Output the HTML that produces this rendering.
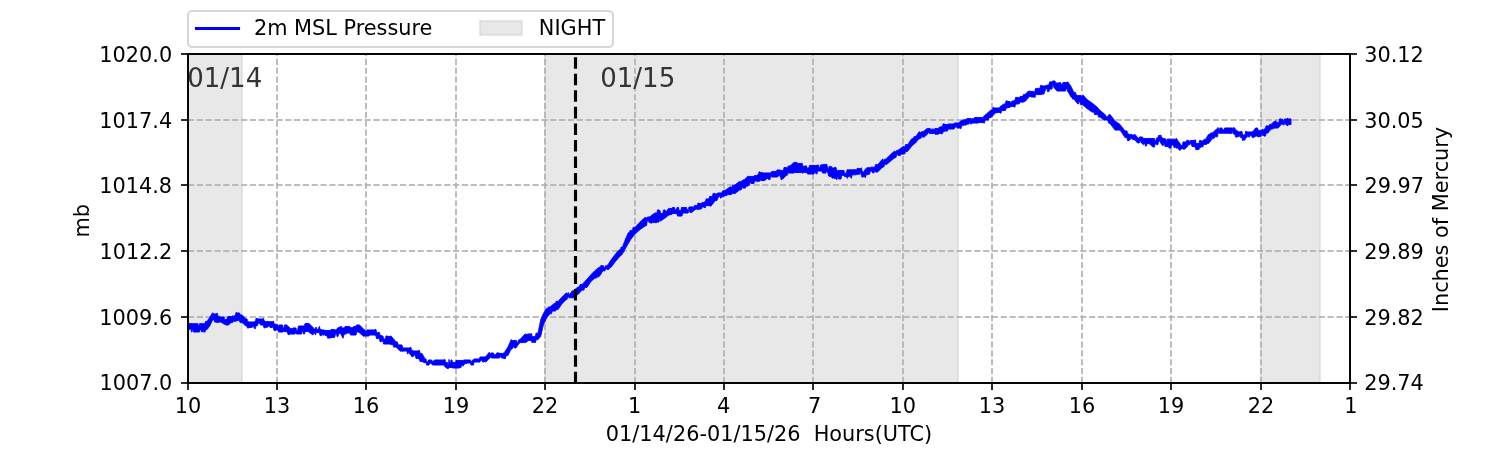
<!DOCTYPE html>
<html lang="en"><head><meta charset="utf-8"><title>2m MSL Pressure</title>
<style>html,body{margin:0;padding:0;background:#fff;overflow:hidden}svg{display:block}text{font-family:"DejaVu Sans", "Liberation Sans", sans-serif;font-size:20.83px;fill:#000}</style></head><body>
<svg width="1500" height="450" viewBox="0 0 1500 450">
<rect width="1500" height="450" fill="#fff"/>
<defs><clipPath id="ax"><rect x="187.5" y="54" width="1162.5" height="329"/></clipPath></defs>
<g clip-path="url(#ax)" fill="#d1d1d1" fill-opacity="0.5" stroke="#d1d1d1" stroke-opacity="0.5" stroke-width="2.083">
<rect x="188" y="54" width="54" height="329"/>
<rect x="545" y="54" width="413" height="329"/>
<rect x="1261" y="54" width="59" height="329"/>
</g>
<g stroke="#b0b0b0" stroke-opacity="0.8333" stroke-width="2" stroke-dasharray="6.167 2.667" fill="none">
<path d="M188 383 V54"/>
<path d="M277 383 V54"/>
<path d="M366 383 V54"/>
<path d="M456 383 V54"/>
<path d="M545 383 V54"/>
<path d="M635 383 V54"/>
<path d="M724 383 V54"/>
<path d="M813 383 V54"/>
<path d="M903 383 V54"/>
<path d="M992 383 V54"/>
<path d="M1082 383 V54"/>
<path d="M1171 383 V54"/>
<path d="M1261 383 V54"/>
<path d="M1350 383 V54"/>
<path d="M188 383 H1350"/>
<path d="M188 317 H1350"/>
<path d="M188 251 H1350"/>
<path d="M188 185 H1350"/>
<path d="M188 120 H1350"/>
<path d="M188 54 H1350"/>
</g>
<path clip-path="url(#ax)" d="M187.5 323.1 L189.5 323.1 L190 323.65 L198 323.65 L198.5 326.15 L199 326.15 L199.5 323.65 L204.5 323.65 L205 323.1 L205.5 321.4 L207 321.4 L207.5 320.65 L208 319.9 L208.5 319.15 L209 318.4 L209.5 317.65 L210 316.9 L210.5 316.1 L211 315.3 L211.5 314.5 L212 313.7 L212.5 312.9 L213 312.9 L213.5 313.45 L214 313.45 L214.5 313.95 L216 313.95 L216.5 313.4 L217.5 313.4 L218 316.4 L219.5 316.4 L220 316.95 L224 316.95 L224.5 319.45 L227 319.45 L227.5 316.95 L228 316.45 L231.5 316.45 L232 315.95 L233.5 315.95 L234 317.78 L234.5 315.4 L235.5 315.4 L236 312.4 L236.5 312.4 L237 312.95 L239.5 312.95 L240 314.9 L242 314.9 L242.5 315.4 L243 315.9 L243.5 316.4 L244 316.9 L244.5 317.4 L245 317.9 L245.5 318.4 L246 318.9 L247 318.9 L247.5 321.4 L248.5 321.4 L249 321.95 L254 321.95 L254.5 321.4 L255.5 321.4 L256 318.4 L257.5 318.4 L258 318.95 L262.5 318.95 L263 318.4 L263.5 318.4 L264 320.9 L265 320.9 L265.5 321.45 L268.5 321.45 L269 321.65 L272.5 321.65 L273 321.1 L273.5 321.1 L274 323.9 L275.5 323.9 L276 324.45 L277.5 324.45 L278 326.25 L278.5 326.75 L279 324.95 L282.5 324.95 L283 327.95 L284 327.95 L284.5 324.95 L286 324.95 L286.5 324.84 L287 325.27 L287.5 325.71 L288 326.15 L288.5 326.59 L289 327.02 L289.5 327.46 L290 328.45 L292.5 328.45 L293 327.95 L296 327.95 L296.5 330.78 L297.5 330.78 L298 327.95 L298.5 325.95 L304.5 325.95 L305 323.45 L308.5 323.45 L309 323.4 L309.5 323.9 L310 324.4 L310.5 324.9 L311 325.4 L311.5 325.9 L312 326.4 L312.5 326.9 L313 327.4 L313.5 328.45 L314 328.95 L315.5 328.95 L316 326.95 L316.5 329.28 L318.5 329.28 L319 326.95 L319.5 326.4 L320 329.4 L321.5 329.4 L322 329.95 L324.5 329.95 L325 330.45 L330.5 330.45 L331 329.45 L334.5 329.45 L335 329.95 L336 329.95 L336.5 329.56 L337 328.62 L337.5 328.23 L338 327.84 L338.5 327.46 L339 327.07 L339.5 327.23 L340 326.84 L340.5 326.45 L341.5 326.45 L342 327.95 L344.5 327.95 L345 326.45 L350 326.45 L350.5 327.65 L353 327.65 L353.5 326.45 L356 326.45 L356.5 324.95 L359 324.95 L359.5 324.9 L360 325.4 L360.5 325.9 L361 326.4 L361.5 326.9 L362 327.4 L362.5 327.9 L363 328.4 L363.5 328.9 L364 329.4 L364.5 329.95 L365 329.95 L365.5 331.15 L366.5 331.15 L367 329.95 L374.5 329.95 L375 329.4 L376 329.4 L376.5 332.4 L379.5 332.4 L380 335.4 L381.5 335.4 L382 335.95 L383 335.95 L383.5 338.95 L385.5 338.95 L386 335.95 L387.5 335.95 L388 336.45 L390 336.45 L390.5 335.9 L391 335.9 L391.5 336.5 L392 337.1 L392.5 337.7 L393 338.3 L393.5 338.9 L394 339.5 L394.5 340.1 L395 340.7 L395.5 341.3 L396 341.9 L397.5 341.9 L398 344.9 L402 344.9 L402.5 347.4 L403 347.4 L403.5 347.95 L409.5 347.95 L410 347.4 L411 347.4 L411.5 350.4 L413 350.4 L413.5 350.95 L418 350.95 L418.5 350.4 L419.5 350.4 L420 353.4 L422 353.4 L422.5 354.32 L423 355.23 L423.5 356.15 L424 357.07 L424.5 357.98 L425 358.9 L426 358.9 L426.5 361.78 L428 361.78 L428.5 359.95 L431.5 359.95 L432 361.15 L434 361.15 L434.5 359.95 L444 359.95 L444.5 359.4 L445 359.4 L445.5 361.9 L446 362.45 L447.5 362.45 L448 364.95 L448.5 364.95 L449 359.4 L449.5 362.45 L450.5 362.45 L451 359.95 L452 359.95 L452.5 362.45 L455.5 362.45 L456 360.45 L463 360.45 L463.5 359.95 L470.5 359.95 L471 361.78 L472 361.78 L472.5 359.95 L473.5 359.95 L474 358.95 L478.5 358.95 L479 358.78 L479.5 358.78 L480 356.95 L485 356.95 L485.5 356.4 L486 356.4 L486.5 355.73 L487 355.07 L487.5 354.4 L488 353.73 L488.5 353.07 L489 352.4 L489.5 352.4 L490 354.15 L490.5 354.15 L491 352.95 L493.5 352.95 L494 354.75 L496 354.75 L496.5 352.95 L499.5 352.95 L500 353.45 L503 353.45 L503.5 352.9 L504 352.9 L504.5 352.15 L505 351.4 L505.5 350.65 L506 349.9 L506.5 349.15 L507 348.4 L507.5 347.65 L508 346.9 L508.5 345.73 L509 344.57 L509.5 343.4 L510 342.23 L510.5 341.07 L511 339.9 L512 339.9 L512.5 340.45 L516.5 340.45 L517 342.95 L517.5 342.53 L518 341.78 L518.5 339.95 L519 339.95 L519.5 339.4 L520 339.4 L520.5 338.85 L521 338.3 L521.5 337.75 L522 337.2 L522.5 336.65 L523 336.1 L523.5 335.55 L524 335 L524.5 334.45 L525 333.9 L525.5 333.9 L526 334.45 L527 334.45 L527.5 333.95 L531 333.95 L531.5 333.4 L532 335.9 L532.5 336.45 L535 336.45 L535.5 335.9 L536 333.2 L538 333.2 L538.5 330.68 L539 328.16 L539.5 325.64 L540 323.13 L540.5 320.61 L541 318.91 L541.5 317.75 L542 316.6 L542.5 315.45 L543 314.29 L543.5 313.28 L544 312.49 L544.5 311.69 L545 310.9 L545.5 310.11 L546 309.31 L546.5 308.52 L547 308.2 L548 308.2 L548.5 306.9 L550 306.9 L550.5 306.49 L551 306.07 L551.5 305.66 L552 305.25 L552.5 304.84 L553 304.42 L553.5 304.01 L554 303.6 L555.5 303.6 L556 301.4 L558 301.4 L558.5 300.84 L559 300.27 L559.5 299.71 L560 299.15 L560.5 298.59 L561 298.02 L561.5 297.46 L562 296.9 L562.5 296.4 L563 295.9 L563.5 295.4 L564 294.9 L564.5 294.4 L565 293.9 L565.5 293.4 L566 292.9 L566.5 292.9 L567 293.45 L567.5 293.45 L568 292.75 L568.5 292.75 L569 294.58 L570 294.58 L570.5 292.75 L571.5 292.75 L572 290.9 L573 290.9 L573.5 290.73 L574 290.3 L574.5 289.88 L575 289.45 L575.5 289.03 L576 288.6 L576.5 288.18 L577 287.75 L577.5 287.33 L578 286.9 L579.5 286.9 L580 284.6 L582 284.6 L582.5 284.06 L583 283.52 L583.5 282.98 L584 282.44 L584.5 281.9 L585 281.36 L585.5 280.82 L586 280.28 L586.5 279.74 L587 279.2 L587.5 278.62 L588 278.05 L588.5 277.47 L589 276.9 L589.5 276.32 L590 275.75 L590.5 275.17 L591 274.6 L591.5 274.1 L592 273.6 L592.5 273.1 L593 272.6 L593.5 272.1 L594 271.6 L594.5 271.1 L595 270.6 L595.5 270.17 L596 269.75 L596.5 269.32 L597 268.9 L597.5 268.47 L598 268.05 L598.5 267.62 L599 267.2 L600.5 267.2 L601 265.2 L601.5 265.75 L603.5 265.75 L604 267.58 L605 267.58 L605.5 265.75 L606.5 265.75 L607 265.2 L607.5 265.2 L608 264.72 L608.5 263.92 L609 263.11 L609.5 262.31 L610 261.51 L610.5 260.7 L611 259.9 L611.5 259.24 L612 258.57 L612.5 257.91 L613 257.25 L613.5 256.59 L614 255.92 L614.5 255.26 L615 254.6 L615.5 254.01 L616 253.42 L616.5 252.84 L617 252.25 L617.5 251.66 L618 251.07 L618.5 250.49 L619 249.9 L620.5 249.9 L621 247.2 L622 247.2 L622.5 246.69 L623 245.43 L623.5 244.16 L624 242.9 L624.5 241.64 L625 240.37 L625.5 239.11 L626 237.91 L626.5 236.75 L627 235.6 L627.5 234.45 L628 233.29 L628.5 232.6 L629.5 232.6 L630 230.4 L632.5 230.4 L633 227.4 L635 227.4 L635.5 226.85 L636 226.3 L636.5 225.75 L637 225.2 L637.5 224.65 L638 224.1 L638.5 223.55 L639 223 L639.5 222.45 L640 221.9 L640.5 221.45 L641 221 L641.5 220.55 L642 220.1 L642.5 219.65 L643 219.2 L643.5 218.75 L644 218.3 L644.5 217.85 L645 217.4 L645.5 217.4 L646 217.95 L647 217.95 L647.5 216.95 L650 216.95 L650.5 216.05 L651 215.7 L651.5 215.35 L652 215 L652.5 214.65 L653 214.3 L653.5 213.95 L654 213.6 L654.5 213.25 L655 212.9 L657 212.9 L657.5 209.9 L659 209.9 L659.5 210.45 L660 210.45 L660.5 213.45 L662 213.45 L662.5 212.95 L663 212.95 L663.5 209.95 L665 209.95 L665.5 211.15 L667 211.15 L667.5 209.65 L668 209.65 L668.5 208.45 L672 208.45 L672.5 207.45 L674.5 207.45 L675 209.95 L676.5 209.95 L677 207.45 L678.5 207.45 L679 210.45 L681 210.45 L681.5 207.45 L686.5 207.45 L687 209.78 L688 209.78 L688.5 209.28 L689 206.95 L693.5 206.95 L694 207.34 L694.5 205.45 L696.5 205.45 L697 204.9 L697.5 204.9 L698 202.9 L698.5 202.9 L699 203.45 L701.5 203.45 L702 202.45 L703.5 202.45 L704 201.9 L705.5 201.9 L706 198.9 L709 198.9 L709.5 196.4 L712.5 196.4 L713 193.4 L715 193.4 L715.5 193.95 L717 193.95 L717.5 192.95 L722 192.95 L722.5 190.95 L723 190.95 L723.5 190.4 L725 190.4 L725.5 190.05 L726 189.7 L726.5 189.35 L727 189 L727.5 188.65 L728 188.3 L728.5 187.95 L729 187.6 L729.5 187.25 L730 186.9 L731.5 186.9 L732 189.95 L732.5 185.45 L733 185.45 L733.5 184.9 L735 184.9 L735.5 184.51 L736 184.12 L736.5 183.73 L737 183.34 L737.5 182.96 L738 182.57 L738.5 182.18 L739 181.79 L739.5 181.4 L740.5 181.4 L741 181.95 L741.5 181.95 L742 180.45 L742.5 180.45 L743 179.9 L744 179.9 L744.5 179.4 L745 178.9 L745.5 178.4 L746 177.9 L746.5 177.4 L747 176.9 L747.5 176.4 L748 175.9 L748.5 176.45 L754 176.45 L754.5 175.45 L756.5 175.45 L757 174.9 L758.5 174.9 L759 171.9 L760 171.9 L760.5 172.45 L762.5 172.45 L763 172.95 L771 172.95 L771.5 171.45 L776.5 171.45 L777 169.95 L780.5 169.95 L781 170.45 L783 170.45 L783.5 169.9 L784 167.4 L786.5 167.4 L787 167.95 L787.5 167.95 L788 166.45 L788.5 165.9 L790 165.9 L790.5 165.46 L791 165.01 L791.5 164.57 L792 164.12 L792.5 163.68 L793 163.23 L793.5 162.79 L794 162.34 L794.5 162.45 L797 162.45 L797.5 163.45 L801.5 163.45 L802 162.9 L802.5 165.4 L803 165.4 L803.5 167.15 L804 167.15 L804.5 165.95 L806.5 165.95 L807 168.45 L807.5 167.95 L809 167.95 L809.5 165.45 L817 165.45 L817.5 164.95 L818.5 164.95 L819 167.78 L820 167.78 L820.5 164.95 L822 164.95 L822.5 164.45 L827 164.45 L827.5 168.95 L828.5 168.95 L829 166.45 L831.5 166.45 L832 167.95 L834 167.95 L834.5 167.4 L836 167.4 L836.5 169.9 L837 169.9 L837.5 170.45 L844 170.45 L844.5 173.28 L846.5 173.28 L847 169.85 L851.5 169.85 L852 169.75 L856.5 169.75 L857 168.45 L860.5 168.45 L861 167.9 L861.5 167.9 L862 170.6 L862.5 171.15 L863 172.95 L863.5 172.95 L864 170.9 L864.5 170.47 L865 169.5 L865.5 169.07 L866 168.65 L866.5 168.22 L867 167.8 L867.5 167.37 L868 167.75 L870 167.75 L870.5 167.15 L875 167.15 L875.5 164.6 L877.5 164.6 L878 164.25 L878.5 163.66 L879 163.07 L879.5 162.49 L880 161.9 L880.5 161.31 L881 160.73 L881.5 160.14 L882 159.55 L882.5 159.2 L883 159.2 L883.5 162.25 L884 159.75 L884.5 159.15 L885.5 159.15 L886 158.6 L886.5 158.4 L887 157.9 L887.5 157.4 L888 156.9 L888.5 156.4 L889 155.9 L889.5 155.4 L890 154.9 L890.5 154.43 L891 154 L891.5 153.58 L892 153.15 L892.5 152.73 L893 152.3 L893.5 151.88 L894 151.45 L894.5 151.2 L895 151.2 L895.5 151.75 L896 151.75 L896.5 150.45 L897.5 150.45 L898 149.9 L898.5 149.76 L899 149.41 L899.5 149.06 L900 148.71 L900.5 148.36 L901 148 L901.5 147.65 L902 147.3 L902.5 146.95 L903 146.6 L904.5 146.6 L905 147.15 L905.5 144.6 L907.5 144.6 L908 144.15 L908.5 143.4 L909 142.65 L909.5 141.9 L910 141.15 L910.5 140.4 L911 139.65 L911.5 138.9 L912 138.6 L913.5 138.6 L914 136.6 L915.5 136.6 L916 136.17 L916.5 135.46 L917 134.75 L917.5 134.04 L918 133.32 L918.5 132.61 L919 131.9 L920 131.9 L920.5 132.45 L921 132.45 L921.5 131.75 L923 131.75 L923.5 131.2 L924 130.95 L924.5 130.54 L925 130.13 L925.5 129.72 L926 129.3 L926.5 128.89 L927 128.48 L927.5 128.62 L928 128.45 L930 128.45 L930.5 129.15 L934.5 129.15 L935 128.45 L938.5 128.45 L939 127.25 L940 127.25 L940.5 126.7 L942.5 126.7 L943 123.9 L944.5 123.9 L945 124.45 L947.5 124.45 L948 123.95 L954 123.95 L954.5 122.95 L958 122.95 L958.5 122.7 L959 122.45 L959.5 122.2 L960 121.4 L960.5 121.15 L961 120.9 L961.5 120.65 L962 120.4 L962.5 120.15 L963 119.9 L963.5 119.65 L964 119.95 L964.5 119.7 L965 119.45 L966.5 119.45 L967 118.45 L971 118.45 L971.5 119.65 L972 118.65 L974 118.65 L974.5 117.45 L982.5 117.45 L983 119.28 L983.5 116.46 L984 116.03 L984.5 115.59 L985 115.15 L985.5 114.71 L986 114.28 L986.5 113.84 L987 113.4 L987.5 112.96 L988 112.53 L988.5 112.09 L989 111.65 L989.5 111.21 L990 110.78 L990.5 110.34 L991 109.9 L992.5 109.9 L993 107.4 L994 107.4 L994.5 107.95 L999 107.95 L999.5 107.6 L1000 106.7 L1000.5 106.35 L1001 106 L1001.5 105.65 L1002 105.3 L1002.5 104.95 L1003 104.6 L1003.5 104.25 L1004 103.9 L1005.5 103.9 L1006 100.9 L1007.5 100.9 L1008 101.45 L1010 101.45 L1010.5 102.15 L1011.5 102.15 L1012 100.95 L1013.5 100.95 L1014 100.4 L1015 100.4 L1015.5 97.4 L1018.5 97.4 L1019 97.95 L1019.5 97.95 L1020 96.45 L1022 96.45 L1022.5 95.9 L1023 95.9 L1023.5 94.4 L1025 94.4 L1025.5 93.9 L1026 93.4 L1026.5 92.9 L1027 92.4 L1027.5 91.9 L1028 91.4 L1028.5 90.9 L1029 93.28 L1029.5 90.95 L1030.5 90.95 L1031 91.45 L1034 91.45 L1034.5 93.78 L1035 90.9 L1035.5 88.4 L1040 88.4 L1040.5 85.4 L1042 85.4 L1042.5 85.95 L1045 85.95 L1045.5 85.45 L1047 85.45 L1047.5 84.9 L1049 84.9 L1049.5 81.9 L1052 81.9 L1052.5 80.95 L1055 80.95 L1055.5 82.95 L1059 82.95 L1059.5 82.45 L1060.5 82.45 L1061 84.25 L1062.5 84.25 L1063 82.45 L1067 82.45 L1067.5 81.9 L1068 81.9 L1068.5 82.65 L1069 83.4 L1069.5 84.15 L1070 84.9 L1070.5 85.65 L1071 86.4 L1071.5 87.4 L1072 88.4 L1072.5 89.4 L1073 90.4 L1073.5 91.4 L1074 92.4 L1075.5 92.4 L1076 94.9 L1077 94.9 L1077.5 95.45 L1081 95.45 L1081.5 96.65 L1082 96.65 L1082.5 95.45 L1083 94.9 L1083.5 95.46 L1084 96.03 L1084.5 96.59 L1085 97.15 L1085.5 97.71 L1086 98.28 L1086.5 98.84 L1087 99.4 L1087.5 99.75 L1088 100.1 L1088.5 100.45 L1089 100.8 L1089.5 101.15 L1090 101.5 L1090.5 101.85 L1091 102.2 L1091.5 102.55 L1092 102.9 L1092.5 103.3 L1093 103.7 L1093.5 104.1 L1094 104.5 L1094.5 104.9 L1095 105.3 L1095.5 105.7 L1096 106.1 L1096.5 106.5 L1097 106.9 L1097.5 107.48 L1098 108.07 L1098.5 108.65 L1099 109.23 L1099.5 109.82 L1100 110.4 L1100.5 110.8 L1101 111.2 L1101.5 111.6 L1102 112 L1102.5 112.4 L1103 112.8 L1103.5 113.2 L1104 113.6 L1104.5 114 L1105 114.95 L1105.5 114.95 L1106 116.75 L1108 116.75 L1108.5 114.95 L1109 114.95 L1109.5 114.4 L1110 114.4 L1110.5 115.05 L1111 115.7 L1111.5 116.35 L1112 117 L1112.5 117.65 L1113 118.3 L1113.5 118.95 L1114 119.6 L1114.5 120.25 L1115 120.9 L1115.5 121.25 L1116 121.6 L1116.5 121.95 L1117 122.3 L1117.5 122.65 L1118 123 L1118.5 123.35 L1119 123.7 L1119.5 124.05 L1120 124.4 L1120.5 125.05 L1121 125.7 L1121.5 126.35 L1122 127 L1122.5 127.65 L1123 128.3 L1123.5 128.95 L1124 129.6 L1124.5 130.25 L1125 130.9 L1127 130.9 L1127.5 133.9 L1129 133.9 L1129.5 134.45 L1132 134.45 L1132.5 134.95 L1134 134.95 L1134.5 134.4 L1135 134.4 L1135.5 134.98 L1136 135.57 L1136.5 136.15 L1137 136.73 L1137.5 137.32 L1138 138.45 L1139 138.45 L1139.5 136.95 L1142.5 136.95 L1143 138.45 L1154.5 138.45 L1155 140.78 L1156 140.78 L1156.5 137.9 L1158 137.9 L1158.5 135.45 L1160.5 135.45 L1161 134.9 L1161.5 137.9 L1163 137.9 L1163.5 138.45 L1164.5 138.45 L1165 138.95 L1166 138.95 L1166.5 141.95 L1167 141.95 L1167.5 138.95 L1168.5 138.95 L1169 139.15 L1175.5 139.15 L1176 138.6 L1176.5 138.6 L1177 139.3 L1177.5 140 L1178 140.7 L1178.5 141.4 L1179 142.1 L1179.5 142.8 L1180 143.5 L1180.5 144.2 L1181 145.45 L1182.5 145.45 L1183 141.9 L1186.5 141.9 L1187 139.9 L1187.5 140.45 L1189 140.45 L1189.5 141.28 L1190 141.28 L1190.5 140.45 L1194 140.45 L1194.5 139.9 L1195.5 139.9 L1196 142.9 L1196.5 143.45 L1199 143.45 L1199.5 140.4 L1201 140.4 L1201.5 140.95 L1203 140.95 L1203.5 139.95 L1204 139.4 L1205.5 139.4 L1206 138.57 L1206.5 137.73 L1207 136.9 L1207.5 136.07 L1208 135.23 L1208.5 134.4 L1210 134.4 L1210.5 132.9 L1212.5 132.9 L1213 132.4 L1213.5 131.9 L1214 131.4 L1214.5 130.9 L1215 130.4 L1215.5 129.9 L1216 129.4 L1216.5 128.9 L1217.5 128.9 L1218 127.4 L1218.5 129.15 L1219.5 129.15 L1220 127.95 L1222 127.95 L1222.5 129.98 L1224 129.98 L1224.5 127.95 L1232.5 127.95 L1233 130.28 L1233.5 127.4 L1234 127.4 L1234.5 127.98 L1235 128.57 L1235.5 129.15 L1236 129.73 L1236.5 130.32 L1237 130.9 L1237.5 130.9 L1238 131.45 L1238.5 131.45 L1239 131.95 L1240 131.95 L1240.5 131.4 L1242 131.4 L1242.5 134.4 L1243 134.95 L1245 134.95 L1245.5 131.4 L1247 131.4 L1247.5 131.95 L1252 131.95 L1252.5 131.4 L1253 131.4 L1253.5 130.73 L1254 130.07 L1254.5 129.4 L1255 128.73 L1255.5 128.07 L1256 127.95 L1257.5 127.95 L1258 129.9 L1258.5 129.9 L1259 130.45 L1261.5 130.45 L1262 129.45 L1263 129.45 L1263.5 131.95 L1264 128.9 L1265.5 128.9 L1266 125.9 L1269 125.9 L1269.5 124.4 L1271 124.4 L1271.5 123.9 L1272 123.4 L1272.5 122.9 L1273 122.4 L1273.5 121.9 L1274 121.4 L1274.5 121.45 L1275 120.95 L1276 120.95 L1276.5 122.45 L1278.5 122.45 L1279 121.9 L1279.5 118.9 L1281.5 118.9 L1282 119.45 L1283 119.45 L1283.5 121.45 L1284 121.45 L1284.5 118.95 L1286.5 118.95 L1287 118.4 L1288 118.4 L1288.5 118.9 L1289 118.9 L1291 118.9 L1291 124.6 L1289 124.6 L1288.5 124.6 L1288 125.6 L1287 125.6 L1286.5 125.05 L1286 125.05 L1285.5 123.25 L1284.5 123.25 L1284 125.05 L1283.5 125.05 L1283 124.05 L1282 124.05 L1281.5 124.6 L1281 124.6 L1280.5 125.27 L1280 125.93 L1279.5 126.6 L1279 127.27 L1278.5 127.38 L1278 128.05 L1274.5 128.05 L1274 128.6 L1273 128.6 L1272.5 129.1 L1271 129.1 L1270.5 129.77 L1270 130.43 L1269.5 131.1 L1269 131.77 L1268.5 132.43 L1268 133.1 L1266 133.1 L1265.5 136.1 L1264 136.1 L1263.5 135.55 L1262.5 135.55 L1262 132.72 L1261.5 133.72 L1261 136.55 L1259 136.55 L1258.5 137.1 L1258 137.1 L1257.5 136.05 L1256 136.05 L1255.5 136.6 L1254.5 136.6 L1254 137.6 L1252.5 137.6 L1252 137.05 L1251.5 135.22 L1250 135.22 L1249.5 137.05 L1248.5 137.05 L1248 135.22 L1247.5 135.22 L1247 137.6 L1245.5 137.6 L1245 140.05 L1243 140.05 L1242.5 140.6 L1242 137.6 L1240.5 137.6 L1240 135.22 L1239.5 135.22 L1239 137.05 L1238.5 136.55 L1238 136.55 L1237.5 137.1 L1235.5 137.1 L1235 134.1 L1233.5 134.1 L1233 133.55 L1232.5 131.22 L1232 131.22 L1231.5 133.55 L1230 133.55 L1229.5 133.25 L1219 133.25 L1218.5 132.42 L1218 133.8 L1217.5 136.8 L1214.5 136.8 L1214 138.6 L1212.5 138.6 L1212 139.23 L1211.5 139.85 L1211 140.48 L1210.5 141.1 L1210 141.73 L1209.5 142.35 L1209 142.98 L1208.5 143.6 L1207 143.6 L1206.5 144.4 L1204 144.4 L1203.5 143.85 L1203 146.85 L1201.5 146.85 L1201 147.4 L1199.5 147.4 L1199 149.55 L1197 149.55 L1196.5 148.35 L1196 150.1 L1195.5 147.1 L1194.5 147.1 L1194 146.55 L1192 146.55 L1191.5 144.75 L1191 143.72 L1190.5 143.72 L1190 144.55 L1189 144.55 L1188.5 145.05 L1188 145.55 L1187.5 146.05 L1187 147.1 L1186.5 147.6 L1186 148.1 L1185.5 148.6 L1185 149.1 L1183 149.1 L1182.5 148.72 L1181 148.72 L1180.5 150.1 L1179 150.1 L1178.5 148.1 L1176 148.1 L1175.5 146.35 L1175 147.55 L1174 147.55 L1173.5 145.05 L1171.5 145.05 L1171 148.05 L1169 148.05 L1168.5 146.55 L1165 146.55 L1164.5 143.75 L1163.5 143.75 L1163 146.1 L1162.5 145.46 L1162 144.81 L1161.5 144.17 L1161 143.53 L1160.5 142.34 L1160 141.69 L1159.5 141.05 L1158.5 141.05 L1158 144.6 L1156.5 144.6 L1156 144.05 L1155 144.05 L1154.5 147.05 L1153 147.05 L1152.5 146.61 L1152 146.18 L1151.5 145.74 L1151 145.3 L1150.5 144.86 L1150 144.43 L1149.5 143.99 L1149 143.55 L1147 143.55 L1146.5 146.05 L1145.5 146.05 L1145 144.25 L1144.5 143.81 L1144 143.38 L1143.5 144.74 L1143 144.3 L1142.5 143.86 L1142 143.43 L1141.5 142.99 L1141 142.55 L1140.5 140.75 L1140 140.75 L1139.5 142.55 L1139 143.05 L1138 143.05 L1137.5 143.02 L1137 142.43 L1136.5 141.85 L1136 141.27 L1135.5 140.68 L1135 140.1 L1134.5 140.1 L1134 139.55 L1132.5 139.55 L1132 138.25 L1130.5 138.25 L1130 140.05 L1129.5 140.05 L1129 140.6 L1127.5 140.6 L1127 137.6 L1125 137.6 L1124.5 136.85 L1124 136.1 L1123.5 135.35 L1123 134.6 L1122.5 133.85 L1122 133.1 L1121.5 132.35 L1121 131.6 L1120.5 130.85 L1120 130.1 L1115 130.1 L1114.5 129.45 L1114 128.8 L1113.5 128.15 L1113 127.5 L1112.5 126.85 L1112 126.2 L1111.5 125.55 L1111 124.9 L1110.5 124.25 L1110 123.6 L1109.5 123.6 L1109 123.05 L1108.5 123.05 L1108 120.55 L1107.5 120.55 L1107 120.02 L1106.5 120.05 L1105 120.05 L1104.5 120.25 L1104 119.9 L1103.5 119.55 L1103 119.2 L1102.5 118.85 L1102 118.5 L1101.5 118.15 L1101 117.8 L1100.5 117.45 L1100 117.1 L1098.5 117.1 L1098 114.6 L1094.5 114.6 L1094 112.1 L1092 112.1 L1091.5 111.75 L1091 111.4 L1090.5 111.05 L1090 110.7 L1089.5 110.35 L1089 110 L1088.5 109.65 L1088 109.3 L1087.5 108.95 L1087 108.6 L1086.5 108.16 L1086 107.72 L1085.5 107.29 L1085 106.85 L1084.5 106.41 L1084 105.97 L1083.5 105.54 L1083 105.1 L1082.5 104.55 L1080.5 104.55 L1080 101.55 L1079 101.55 L1078.5 104.05 L1078 104.05 L1077.5 103.36 L1077 103.22 L1076.5 102.54 L1076 101.85 L1075.5 101.16 L1075 100.47 L1074.5 99.79 L1074 99.1 L1072.5 99.1 L1072 97.1 L1071 97.1 L1070.5 96.18 L1070 95.27 L1069.5 94.35 L1069 93.43 L1068.5 92.52 L1068 91.6 L1067.5 91.6 L1067 88.55 L1066 88.55 L1065.5 91.05 L1057 91.05 L1056.5 90.48 L1056 89.91 L1055.5 89.34 L1055 88.76 L1054.5 88.19 L1054 87.62 L1053.5 87.05 L1053 84.55 L1052.5 84.55 L1052 89.1 L1049.5 89.1 L1049 91.6 L1047.5 91.6 L1047 88.72 L1045.5 88.72 L1045 91.55 L1044.5 91.55 L1044 94.05 L1042.5 94.05 L1042 94.6 L1035.5 94.6 L1035 97.6 L1034.5 97.05 L1031 97.05 L1030.5 96.55 L1029 96.55 L1028.5 97.66 L1028 98.22 L1027.5 98.79 L1027 99.35 L1026.5 99.91 L1026 100.47 L1025.5 101.04 L1025 101.6 L1023.5 101.6 L1023 102.6 L1022.5 102.6 L1022 102.05 L1020 102.05 L1019.5 103.55 L1019 103.55 L1018.5 104.1 L1015.5 104.1 L1015 107.1 L1014 107.1 L1013.5 106.55 L1010.5 106.55 L1010 107.55 L1008 107.55 L1007.5 108.1 L1006 108.1 L1005.5 110.6 L1001.5 110.6 L1001 113.1 L1000 113.1 L999.5 112.55 L997 112.55 L996.5 113.05 L995 113.05 L994.5 113.55 L994 114.6 L993.5 115.1 L993 115.6 L992.5 116.1 L992 116.6 L991.5 117.1 L991 117.6 L989 117.6 L988.5 120.1 L985 120.1 L984.5 123.1 L983.5 123.1 L983 122.55 L979 122.55 L978.5 123.05 L972 123.05 L971.5 124.05 L970.5 124.05 L970 121.72 L969.5 121.72 L969 124.05 L967 124.05 L966.5 125.05 L964 125.05 L963.5 125.6 L961.5 125.6 L961 128.6 L960 128.6 L959.5 128.05 L957 128.05 L956.5 126.22 L955.5 126.22 L955 128.05 L954.5 128.05 L954 129.05 L948 129.05 L947.5 131.05 L945 131.05 L944.5 131.6 L943 131.6 L942.5 133.7 L940.5 133.7 L940 133.15 L939 133.15 L938.5 134.25 L935 134.25 L934.5 133.55 L929.5 133.55 L929 132.35 L928.5 132.35 L928 133.55 L927.5 133.72 L927 134.68 L926.5 135.09 L926 135.5 L925.5 135.92 L925 136.33 L924.5 136.74 L924 137.15 L923.5 137.4 L923 136.85 L921.5 136.85 L921 138.25 L920.5 138.25 L920 138.8 L919 138.8 L918.5 139.41 L918 140.01 L917.5 140.62 L917 141.22 L916.5 141.83 L916 142.44 L915.5 142.97 L915 143.38 L914.5 143.79 L914 144.2 L913.5 144.62 L913 145.03 L912.5 145.44 L912 145.85 L911.5 146.37 L911 147.03 L910.5 147.69 L910 148.35 L909.5 149.02 L909 149.68 L908.5 150.34 L908 151 L907.5 151.4 L905.5 151.4 L905 153.55 L904.5 154.1 L901 154.1 L900.5 155.4 L898 155.4 L897.5 154.85 L896.5 154.85 L896 157.55 L895.5 157.55 L895 158.1 L894.5 158.1 L894 158.35 L893.5 158.76 L893 159.17 L892.5 159.58 L892 160 L891.5 160.41 L891 160.82 L890.5 161.23 L890 161.66 L889.5 162.08 L889 162.5 L888.5 162.93 L888 163.35 L887.5 163.78 L887 164.2 L886.5 164.63 L886 164.8 L885.5 164.25 L884.5 164.25 L884 166.85 L883.5 166.85 L883 167.4 L882.5 167.4 L882 167.71 L881.5 168.22 L881 168.73 L880.5 169.24 L880 169.75 L879.5 170.26 L879 170.77 L878.5 171.28 L878 171.79 L877.5 172.1 L875.5 172.1 L875 170.42 L874.5 170.42 L874 172.85 L872.5 172.85 L872 171.05 L870.5 171.05 L870 172.45 L869.5 174.25 L868 174.25 L867.5 174.8 L866 174.8 L865.5 177.4 L865 177.4 L864.5 176.85 L862.5 176.85 L862 177.4 L861.5 174.8 L861 174.8 L860.5 171.72 L860 171.72 L859.5 174.25 L857 174.25 L856.5 174.85 L852 174.85 L851.5 178.15 L851 178.15 L850.5 176.35 L848 176.35 L847.5 178.15 L847 178.15 L846.5 176.55 L844.5 176.55 L844 175.35 L842 175.35 L841.5 176.55 L841 179.05 L838.5 179.05 L838 176.55 L837.5 176.55 L837 179.6 L836.5 179.6 L836 178.6 L834.5 178.6 L834 178.05 L832 178.05 L831.5 176.55 L829.5 176.55 L829 176.16 L828.5 175.77 L828 172.88 L827.5 172.49 L827 172.11 L826.5 171.72 L826 171.33 L825.5 173.44 L825 173.05 L822.5 173.05 L822 171.05 L817.5 171.05 L817 174.05 L816.5 174.05 L816 172.85 L814.5 172.85 L814 174.05 L807.5 174.05 L807 172.55 L803.5 172.55 L803 173.1 L802 173.1 L801.5 172.55 L794.5 172.55 L794 173.1 L788.5 173.1 L788 172.55 L787.5 175.05 L787 175.05 L786.5 175.6 L786 175.6 L785.5 176.16 L785 176.73 L784.5 177.29 L784 177.85 L783.5 178.41 L783 178.43 L782.5 178.99 L782 179.55 L781 179.55 L780.5 175.85 L778 175.85 L777.5 177.05 L771.5 177.05 L771 176.55 L770.5 176.55 L770 179.55 L768.5 179.55 L768 178.35 L767 178.35 L766.5 179.35 L765.5 179.35 L765 180.55 L761 180.55 L760.5 177.55 L760 181.1 L759 181.1 L758.5 181.6 L757 181.6 L756.5 181.05 L754.5 181.05 L754 183.55 L751 183.55 L750.5 182.35 L750 182.35 L749.5 184.35 L749 185.55 L748.5 185.55 L748 186.1 L746 186.1 L745.5 188.1 L743 188.1 L742.5 187.55 L742 187.55 L741.5 189.55 L741 189.55 L740.5 190.1 L739.5 190.1 L739 190.49 L738.5 190.88 L738 191.27 L737.5 191.66 L737 192.04 L736.5 192.43 L736 192.82 L735.5 193.21 L735 193.6 L733.5 193.6 L733 193.05 L732.5 193.05 L732 194.05 L731.5 194.6 L727.5 194.6 L727 195.6 L725 195.6 L724.5 195.95 L724 196.3 L723.5 196.65 L723 196.45 L722.5 196.8 L722 197.15 L721.5 197.5 L721 197.85 L720.5 198.2 L720 196.22 L718.5 196.22 L718 198.55 L717.5 198.55 L717 200.55 L715.5 200.55 L715 201.1 L714.5 201.73 L714 202.35 L713.5 202.98 L713 203.6 L712.5 204.23 L712 204.85 L711.5 205.48 L711 206.1 L709.5 206.1 L709 205.6 L706 205.6 L705.5 207.6 L704 207.6 L703.5 207.05 L702 207.05 L701.5 209.05 L699 209.05 L698.5 209.6 L697 209.6 L696.5 209.05 L696 209.05 L695.5 209.44 L695 209.83 L694.5 210.22 L694 210.61 L693.5 210.99 L693 211.38 L692.5 211.77 L692 212.16 L691.5 212.55 L690 212.55 L689.5 210.22 L689 210.22 L688.5 212.55 L688 213.05 L682.5 213.05 L682 216.05 L677.5 216.05 L677 213.55 L672.5 213.55 L672 214.55 L670 214.55 L669.5 214.9 L669 215.25 L668.5 215.6 L668 214.75 L667.5 215.1 L667 216.65 L666.5 217 L666 217.35 L665.5 217.7 L665 218.05 L664.5 218.4 L664 218.75 L663.5 219.1 L663 219.45 L662.5 219.8 L662 220.15 L661.5 220.5 L661 220.85 L660.5 221.2 L660 219.05 L659.5 219.05 L659 222.1 L657.5 222.1 L657 222.6 L652.5 222.6 L652 223.1 L650.5 223.1 L650 222.55 L649 222.55 L648.5 220.22 L647.5 220.22 L647 222.55 L646.5 225.55 L646 225.55 L645.5 226.1 L645 226.1 L644.5 226.45 L644 226.8 L643.5 227.15 L643 227.5 L642.5 227.85 L642 228.2 L641.5 228.55 L641 228.9 L640.5 229.25 L640 229.6 L639.5 230.05 L639 230.5 L638.5 230.95 L638 231.4 L637.5 231.85 L637 232.3 L636.5 232.75 L636 233.2 L635.5 233.65 L635 234.1 L634.5 234.73 L634 235.35 L633.5 235.98 L633 236.6 L632.5 237.23 L632 237.85 L631.5 238.48 L631 239.1 L630.5 239.9 L630 240.69 L629.5 241.49 L629 242.29 L628.5 243.08 L628 243.94 L627.5 244.85 L627 245.75 L626.5 246.65 L626 247.56 L625.5 248.45 L625 249.34 L624.5 250.22 L624 251.1 L623.5 251.98 L623 252.86 L622.5 253.75 L622 254.4 L621.5 254.9 L621 255.4 L620.5 255.9 L620 256.4 L619.5 256.9 L619 257.4 L618.5 257.99 L618 258.58 L617.5 259.16 L617 259.75 L616.5 260.34 L616 260.93 L615.5 261.51 L615 262.1 L614.5 262.76 L614 263.43 L613.5 264.09 L613 264.75 L612.5 265.41 L612 266.08 L611.5 266.74 L611 267.4 L609.5 267.4 L609 269.4 L607 269.4 L606.5 268.85 L605.5 268.85 L605 270.85 L603 270.85 L602.5 271.53 L602 272.2 L601.5 272.88 L601 274.1 L600.5 274.78 L600 275.45 L599.5 276.12 L599 276.8 L597 276.8 L596.5 278.1 L595 278.1 L594.5 278.51 L594 278.93 L593.5 279.34 L593 279.75 L592.5 280.16 L592 280.58 L591.5 280.99 L591 281.4 L590.5 282.15 L590 282.9 L589.5 283.65 L589 284.4 L588.5 285.15 L588 285.9 L587.5 286.65 L587 287.4 L584.5 287.4 L584 290.1 L582 290.1 L581.5 290.66 L581 291.23 L580.5 291.79 L580 292.35 L579.5 292.91 L579 293.48 L578.5 294.04 L578 294.6 L576 294.6 L575.5 297.8 L572 297.8 L571.5 297.85 L569 297.85 L568.5 296.65 L568 296.65 L567.5 298.05 L567 299.25 L566.5 299.8 L566 299.8 L565.5 300.3 L565 300.8 L564.5 301.3 L564 301.8 L563.5 302.3 L563 302.8 L562.5 303.3 L562 303.8 L561.5 304.53 L561 305.25 L560.5 305.98 L560 306.7 L559.5 307.43 L559 308.15 L558.5 308.88 L558 309.6 L556 309.6 L555.5 311.1 L552 311.1 L551.5 313.8 L550 313.8 L549.5 314.41 L549 315.01 L548.5 315.62 L548 316.22 L547.5 316.83 L547 317.44 L546.5 318.23 L546 319.3 L545.5 320.38 L545 321.45 L544.5 322.52 L544 323.6 L543.5 324.67 L543 326.4 L542.5 328.58 L542 330.75 L541.5 332.92 L541 335.1 L540.5 336.64 L540 337.26 L539.5 337.87 L539 338.48 L538.5 339.09 L538 339.7 L536 339.7 L535.5 342.8 L535 342.25 L532.5 342.25 L532 342.8 L531.5 341.1 L531 340.55 L527.5 340.55 L527 342.05 L526 342.05 L525.5 342.6 L520 342.6 L519.5 343.35 L519 343.55 L518.5 344.3 L518 345.05 L517.5 345.8 L517 346.55 L516.5 347.3 L516 348.05 L514.5 348.05 L514 346.85 L513.5 346.85 L513 347.35 L512.5 348.55 L512 349.1 L511 349.1 L510.5 350.18 L510 351.27 L509.5 352.35 L509 353.43 L508.5 354.52 L508 355.6 L506 355.6 L505.5 358.6 L503.5 358.6 L503 358.05 L501.5 358.05 L501 356.85 L500 356.85 L499.5 358.05 L491.5 358.05 L491 356.22 L490.5 357.42 L490 357.42 L489.5 358.6 L489 358.6 L488.5 359.18 L488 359.77 L487.5 360.35 L487 360.93 L486.5 361.52 L486 362.1 L485.5 362.1 L485 361.55 L484 361.55 L483.5 362.05 L482.5 362.05 L482 360.22 L480.5 360.22 L480 362.05 L474 362.05 L473.5 365.05 L471 365.05 L470.5 363.05 L467.5 363.05 L467 363.55 L465 363.55 L464.5 364.22 L464 364.88 L463.5 365.55 L463 366.22 L462.5 364.38 L462 365.05 L461.5 365.05 L461 367.55 L460 367.55 L459.5 368.05 L452.5 368.05 L452 367.55 L449.5 367.55 L449 368.1 L448.5 368.55 L447 368.55 L446.5 367.97 L446 367.38 L445.5 367.35 L445 366.77 L444.5 366.18 L444 365.05 L432.5 365.05 L432 364.42 L431.5 363.22 L429.5 363.22 L429 365.05 L426.5 365.05 L426 362.6 L423.5 362.6 L423 361.6 L420 361.6 L419.5 359.1 L418.5 359.1 L418 358.55 L416 358.55 L415.5 356.05 L415 354.22 L414.5 354.22 L414 356.05 L413.5 356.05 L413 356.6 L411.5 356.6 L411 354.6 L410 354.6 L409.5 352.85 L408 352.85 L407.5 354.05 L407 351.05 L403.5 351.05 L403 351.6 L402.5 351.6 L402 351.1 L400 351.1 L399.5 350.6 L399 350.1 L398.5 349.6 L398 349.1 L397.5 348.6 L397 348.1 L396.5 347.6 L396 347.1 L393.5 347.1 L393 344.6 L390.5 344.6 L390 344.05 L383.5 344.05 L383 341.05 L382 341.05 L381.5 341.6 L380 341.6 L379.5 338.6 L376.5 338.6 L376 335.6 L375 335.6 L374.5 335.05 L369.5 335.05 L369 336.05 L364.5 336.05 L364 336.6 L363.5 336.2 L363 335.8 L362.5 335.4 L362 335 L361.5 334.6 L361 334.2 L360.5 333.8 L360 333.4 L359.5 333 L359 332.05 L356.5 332.05 L356 335.05 L350.5 335.05 L350 333.05 L347 333.05 L346.5 333.71 L346 334.38 L345.5 333.24 L345 333.9 L344.5 334.56 L344 335.23 L343.5 335.89 L343 338.35 L342.5 337.39 L342 336.43 L341.5 335.47 L341 334.51 L340.5 333.55 L339.5 333.55 L339 334.1 L338.5 334.1 L338 336.6 L337 336.6 L336.5 333.55 L335.5 333.55 L335 336.05 L334.5 337.55 L331 337.55 L330.5 338.05 L327.5 338.05 L327 335.55 L325 335.55 L324.5 333.22 L324 335.05 L322.5 335.05 L322 333.22 L321.5 335.6 L320 335.6 L319.5 333.1 L319 332.55 L316 332.55 L315.5 335.05 L315 333.25 L314 333.25 L313.5 332.93 L313 334.96 L312.5 334.65 L312 334.33 L311.5 334.01 L311 333.69 L310.5 333.37 L310 333.05 L309.5 332.74 L309 332.42 L308.5 331.55 L305 331.55 L304.5 334.05 L303.5 334.05 L303 331.55 L302 331.55 L301.5 334.05 L296.5 334.05 L296 332.85 L295.5 332.85 L295 334.05 L290 334.05 L289.5 334.6 L288 334.6 L287.5 332.1 L286.5 332.1 L286 331.55 L283.5 331.55 L283 332.05 L278.5 332.05 L278 330.05 L276 330.05 L275.5 330.6 L274 330.6 L273.5 328.1 L273 328.1 L272.5 324.92 L272 327.55 L270 327.55 L269.5 326.35 L269 326.35 L268.5 326.15 L268 326.15 L267.5 327.35 L265.5 327.35 L265 327.9 L264 327.9 L263.5 325.6 L263 325.6 L262.5 325.05 L260.5 325.05 L260 323.25 L258 323.25 L257.5 325.6 L256 325.6 L255.5 328.6 L254.5 328.6 L254 326.85 L252 326.85 L251.5 328.05 L251 327.55 L249 327.55 L248.5 328.1 L247.5 328.1 L247 326.1 L246 326.1 L245.5 325.66 L245 325.23 L244.5 324.79 L244 324.35 L243.5 323.91 L243 323.48 L242.5 323.04 L242 322.6 L240 322.6 L239.5 320.55 L237 320.55 L236.5 321.1 L236 321.1 L235.5 321.6 L234.5 321.6 L234 321.05 L233.5 321.55 L233 322.05 L232.5 322.55 L232 323.05 L231.5 322.35 L231 322.85 L230.5 323.35 L230 323.85 L229 323.85 L228.5 325.05 L226 325.05 L225.5 324.78 L225 324.5 L224.5 324.23 L224 323.95 L223.5 323.68 L223 323.4 L222.5 323.12 L222 322.85 L221.5 322.57 L221 322.3 L220.5 322.02 L220 321.75 L219.5 322.3 L218 322.3 L217.5 322.6 L216.5 322.6 L216 322.05 L214.5 322.05 L214 319.55 L213.5 319.55 L213 320.1 L212.5 320.1 L212 321.2 L211.5 322.3 L211 323.4 L210.5 324.5 L210 325.6 L209.5 326.27 L209 326.93 L208.5 327.6 L208 328.27 L207.5 328.93 L207 329.6 L205.5 329.6 L205 332.3 L204.5 331.75 L201.5 331.75 L201 329.55 L200 329.55 L199.5 332.05 L193.5 332.05 L193 329.05 L192.5 329.05 L192 332.05 L191.5 332.05 L191 329.05 L190 329.05 L189.5 329.6 L187.5 329.6Z" fill="#0000ff" stroke="#0000ff" stroke-width="0.9" stroke-linejoin="round"/>
<path d="M575.5 383.375 V54" stroke="#000" stroke-width="3.125" stroke-dasharray="11.5625 5" fill="none"/>
<text x="187.19" y="86.81" style="font-size:26.04px;fill:#333">01/14</text>
<text x="600.22" y="86.84" style="font-size:26.04px;fill:#333">01/15</text>
<g stroke="#000" stroke-opacity="0.8333" stroke-width="2" fill="none">
<path d="M188 383 V390"/>
<path d="M277 383 V390"/>
<path d="M366 383 V390"/>
<path d="M456 383 V390"/>
<path d="M545 383 V390"/>
<path d="M635 383 V390"/>
<path d="M724 383 V390"/>
<path d="M813 383 V390"/>
<path d="M903 383 V390"/>
<path d="M992 383 V390"/>
<path d="M1082 383 V390"/>
<path d="M1171 383 V390"/>
<path d="M1261 383 V390"/>
<path d="M1350 383 V390"/>
<path d="M188 383 H181"/>
<path d="M1350 383 H1357"/>
<path d="M188 317 H181"/>
<path d="M1350 317 H1357"/>
<path d="M188 251 H181"/>
<path d="M1350 251 H1357"/>
<path d="M188 185 H181"/>
<path d="M1350 185 H1357"/>
<path d="M188 120 H181"/>
<path d="M1350 120 H1357"/>
<path d="M188 54 H181"/>
<path d="M1350 54 H1357"/>
</g>
<g stroke="#000" stroke-opacity="0.975" stroke-width="2" fill="none" stroke-linecap="square">
<path d="M188 54 H1350 V383 H188 Z"/>
</g>
<text x="187.9" y="412.97" text-anchor="middle">10</text>
<text x="276.96" y="413" text-anchor="middle">13</text>
<text x="365.95" y="412.98" text-anchor="middle">16</text>
<text x="455.95" y="412.89" text-anchor="middle">19</text>
<text x="544.89" y="412.88" text-anchor="middle">22</text>
<text x="634.65" y="412.93" text-anchor="middle">1</text>
<text x="723.65" y="412.85" text-anchor="middle">4</text>
<text x="814.61" y="412.96" text-anchor="middle">7</text>
<text x="902.85" y="412.95" text-anchor="middle">10</text>
<text x="992.01" y="412.96" text-anchor="middle">13</text>
<text x="1082.13" y="412.95" text-anchor="middle">16</text>
<text x="1171.13" y="412.89" text-anchor="middle">19</text>
<text x="1260.96" y="412.85" text-anchor="middle">22</text>
<text x="1350.77" y="412.88" text-anchor="middle">1</text>
<text x="172.3" y="390.49" text-anchor="end">1007.0</text>
<text x="1364.14" y="390.41">29.74</text>
<text x="172.22" y="324.77" text-anchor="end">1009.6</text>
<text x="1364.2" y="324.7">29.82</text>
<text x="172.37" y="259.04" text-anchor="end">1012.2</text>
<text x="1364.23" y="259.02">29.89</text>
<text x="172.06" y="193.35" text-anchor="end">1014.8</text>
<text x="1364.38" y="193.3">29.97</text>
<text x="172.18" y="127.65" text-anchor="end">1017.4</text>
<text x="1364.18" y="127.69">30.05</text>
<text x="172.18" y="61.96" text-anchor="end">1020.0</text>
<text x="1364.19" y="61.96">30.12</text>
<text x="769.05" y="441.04" text-anchor="middle" xml:space="preserve" style="white-space:pre">01/14/26-01/15/26  Hours(UTC)</text>
<text transform="translate(88.98 220.8) rotate(-90)" text-anchor="middle">mb</text>
<text transform="translate(1448.01 219.51) rotate(-90)" text-anchor="middle">Inches of Mercury</text>
<rect x="188" y="11" width="425" height="36" rx="4.2" ry="4.2" fill="#fff" fill-opacity="0.8" stroke="#ccc" stroke-opacity="0.8" stroke-width="2.083"/>
<path d="M196.5 28.5 H238.5" stroke="#0000ff" stroke-width="3.125" stroke-linecap="square" fill="none"/>
<text x="253.89" y="35.31">2m MSL Pressure</text>
<rect x="480" y="21" width="42" height="14" fill="#d1d1d1" fill-opacity="0.5" stroke="#d1d1d1" stroke-opacity="0.5" stroke-width="2.083"/>
<text x="538.86" y="35.33">NIGHT</text>
</svg></body></html>
